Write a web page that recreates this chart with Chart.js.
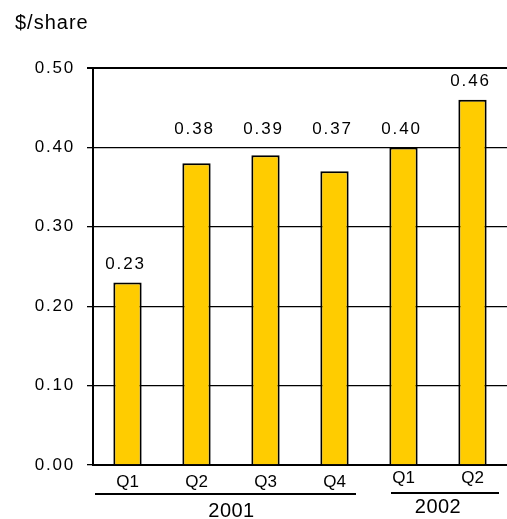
<!DOCTYPE html>
<html>
<head>
<meta charset="utf-8">
<script src="https://cdn.jsdelivr.net/npm/chart.js@4"></script>
<style>
  html, body { margin: 0; padding: 0; background: #fff; }
  #wrap { width: 507px; height: 519px; position: relative; }
</style>
</head>
<body>
<div id="wrap"><canvas id="epsChart"></canvas></div>
<script>
const quarters = ['Q1', 'Q2', 'Q3', 'Q4', 'Q1', 'Q2'];
const eps = [0.23, 0.38, 0.39, 0.37, 0.40, 0.46];
const years = ['2001', '2002'];
const yearFirst = [0, 4];
const yearLast = [3, 5];
const yTicks = [0, 0.1, 0.2, 0.3, 0.4, 0.5];

const FONT = '"Liberation Sans", Arial, sans-serif';

// bracket tweaks per year group (pixels)
const groupPad = [
  { l: 2, r: 13, label: 6, line: 494, text: 517, tick: 487 },
  { l: 22, r: 8, label: -7, line: 493, text: 513, tick: 483 }
];

const spacing = {
  id: 'spacing',
  beforeDraw(chart) {
    chart.ctx.letterSpacing = '1.8px';
  }
};

const extras = {
  id: 'extras',
  afterDraw(chart) {
    const ctx = chart.ctx;
    const x = chart.scales.x;
    const y = chart.scales.y;
    const w = x.getPixelForValue(1) - x.getPixelForValue(0);
    ctx.save();
    ctx.fillStyle = '#000';

    // unit title
    ctx.letterSpacing = '1px';
    ctx.font = '20px ' + FONT;
    ctx.textAlign = 'left';
    ctx.textBaseline = 'alphabetic';
    ctx.fillText('$/share', 15, 29);

    // value labels (the 0.37-0.40 group shares one row)
    ctx.letterSpacing = '1.8px';
    ctx.font = '17px ' + FONT;
    ctx.textAlign = 'center';
    ctx.textBaseline = 'middle';
    const meta = chart.getDatasetMeta(0);
    meta.data.forEach((bar, i) => {
      let anchor = bar.y;
      if (eps[i] > 0.3) anchor = Math.min(bar.y, y.getPixelForValue(0.4));
      ctx.fillText(eps[i].toFixed(2), bar.x - 2, anchor - 18.5);
    });

    // quarter labels and year brackets
    ctx.textBaseline = 'alphabetic';
    ctx.strokeStyle = '#000';
    ctx.lineWidth = 2;
    years.forEach((yr, g) => {
      const p = groupPad[g];
      ctx.letterSpacing = '0px';
      ctx.font = '17px ' + FONT;
      for (let i = yearFirst[g]; i <= yearLast[g]; i++) {
        ctx.fillText(quarters[i], x.getPixelForValue(i), p.tick);
      }
      const x0 = x.getPixelForValue(yearFirst[g]) - w / 2 + p.l;
      const x1 = x.getPixelForValue(yearLast[g]) + w / 2 - p.r;
      ctx.beginPath();
      ctx.moveTo(x0, p.line);
      ctx.lineTo(x1, p.line);
      ctx.stroke();
      ctx.letterSpacing = '0.5px';
      ctx.font = '20px ' + FONT;
      ctx.fillText(yr, (x0 + x1) / 2 + p.label, p.text);
    });
    ctx.restore();
  }
};

new Chart(document.getElementById('epsChart'), {
  type: 'bar',
  data: {
    labels: quarters,
    datasets: [{
      data: eps,
      backgroundColor: '#FFCC00',
      borderColor: '#000',
      borderWidth: 2,
      barPercentage: 0.41,
      categoryPercentage: 1
    }]
  },
  plugins: [spacing, extras],
  options: {
    responsive: true,
    maintainAspectRatio: false,
    animation: false,
    layout: { padding: { top: 68, right: 0, left: 0, bottom: 0 } },
    plugins: {
      legend: { display: false },
      tooltip: { enabled: false }
    },
    scales: {
      x: {
        grid: { display: false },
        border: { color: '#000', width: 2 },
        ticks: { display: false },
        afterFit(scale) { scale.height = 54; }
      },
      y: {
        min: 0,
        max: 0.5,
        afterBuildTicks(scale) {
          scale.ticks = yTicks.map(v => ({ value: v }));
        },
        grid: {
          color: '#000',
          lineWidth: ctx => (ctx.tick && ctx.tick.value === 0.5 ? 2 : 1.3),
          tickLength: 6
        },
        border: { color: '#000', width: 2 },
        ticks: {
          color: '#000',
          font: { family: FONT, size: 17 },
          padding: 12,
          callback: v => v.toFixed(2)
        },
        afterFit(scale) { scale.width = 93; }
      }
    }
  }
});
</script>
</body>
</html>
